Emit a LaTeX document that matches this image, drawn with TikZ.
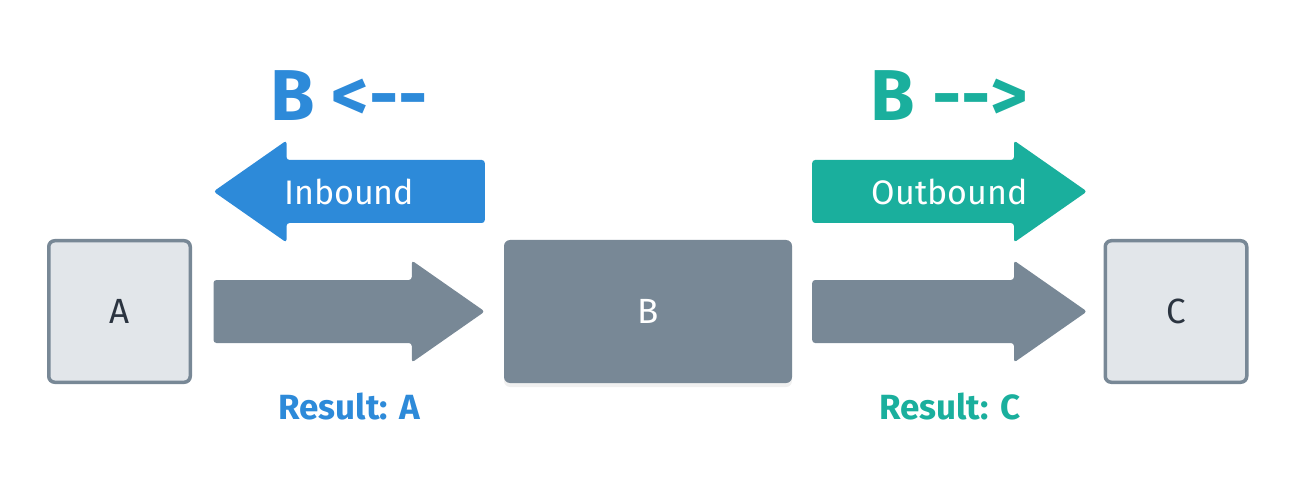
\documentclass[tikz,border=0pt]{standalone}
\usepackage{fontspec}
\setmainfont{Fira Sans}
\usetikzlibrary{calc,shadows}
\definecolor{inblue}{HTML}{2D8AD9}
\definecolor{outteal}{HTML}{1AAF9D}
\definecolor{slate}{HTML}{788896}
\definecolor{boxfill}{HTML}{E2E6EA}
\definecolor{ink}{HTML}{2B3440}
\newcommand\fatright[3]{%
  \fill[#3, rounded corners=3pt] let \p1=(#1), \p2=(#2) in
    (\x1,\y1+31.5pt) -- (\x2-73pt,\y1+31.5pt) -- (\x2-73pt,\y1+51pt) --
    (\x2,\y1) -- (\x2-73pt,\y1-51pt) -- (\x2-73pt,\y1-31.5pt) --
    (\x1,\y1-31.5pt) -- cycle;}
\newcommand\fatleft[3]{%
  \fill[#3, rounded corners=3pt] let \p1=(#1), \p2=(#2) in
    (\x1,\y1+31.5pt) -- (\x2+73pt,\y1+31.5pt) -- (\x2+73pt,\y1+51pt) --
    (\x2,\y1) -- (\x2+73pt,\y1-51pt) -- (\x2+73pt,\y1-31.5pt) --
    (\x1,\y1-31.5pt) -- cycle;}
\begin{document}
\begin{tikzpicture}[x=1pt,y=1pt,
  endbox/.style={draw=slate, line width=3.5pt, fill=boxfill, rounded corners=6pt,
    minimum size=141.5pt, inner sep=0pt, text=ink, font=\fontsize{35}{40}\selectfont},
  midbox/.style={fill=slate, rounded corners=6pt, minimum width=288pt,
    minimum height=143pt, inner sep=0pt, text=white, font=\fontsize{35}{40}\selectfont,
    drop shadow={opacity=0.12, shadow xshift=0pt, shadow yshift=-4pt}},
  arrowtext/.style={text=white, inner sep=0pt, font=\fontsize{34}{40}\selectfont},
  title/.style={anchor=base, inner sep=0pt, font=\fontsize{72}{80}\selectfont\bfseries},
  result/.style={anchor=base, inner sep=0pt, font=\fontsize{35}{40}\selectfont\bfseries}]
\useasboundingbox (0,0) rectangle (1296,480);
\node[endbox] (A) at (119.5,168.5) {A};
\node[midbox] (B) at (648,168.5) {B};
\node[endbox] (C) at (1176,168.5) {C};
% lower connectors
\coordinate (abS) at ($(A.east)+(21.5,0)$);
\coordinate (abE) at ($(B.west)+(-19,0)$);
\coordinate (bcS) at ($(B.east)+(20,0)$);
\coordinate (bcE) at ($(C.west)+(-16.5,0)$);
\fatright{abS}{abE}{slate}
\fatright{bcS}{bcE}{slate}
% upper arrows
\coordinate (inS) at ($(abE)+(0,120)$);
\coordinate (inE) at ($(abS)+(0,120)$);
\coordinate (outS) at ($(bcS)+(0,120)$);
\coordinate (outE) at ($(bcE)+(0,120)$);
\fatleft{inS}{inE}{inblue}
\fatright{outS}{outE}{outteal}
\node[arrowtext] (inL) at ($(inS)!0.5!(inE)$) {Inbound};
\node[arrowtext] (outL) at ($(outS)!0.5!(outE)$) {Outbound};
% titles
\node[title, text=inblue] (inT) at ($(inL)+(0,71)$) {B <-{}-};
\node[title, text=outteal] (outT) at ($(outL)+(0,71)$) {B -{}->};
% results
\node[result, text=inblue] (inR) at ($(abS)!0.5!(abE)+(0,-108)$) {Result: A};
\node[result, text=outteal] (outR) at ($(bcS)!0.5!(bcE)+(0,-108)$) {Result: C};
\end{tikzpicture}
\end{document}
